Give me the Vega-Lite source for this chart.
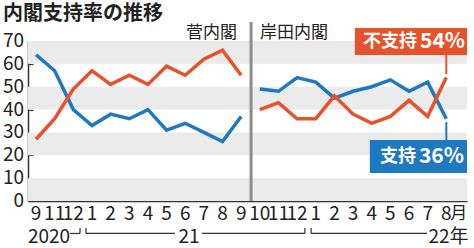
{
  "$schema": "https://vega.github.io/schema/vega-lite/v6.json",
  "width": 439,
  "height": 160,
  "autosize": {"type": "none"},
  "padding": {"left": 28, "top": 41, "right": 7, "bottom": 47},
  "background": "white",
  "config": {
    "font": "Noto Sans CJK JP",
    "view": {"stroke": null},
    "axis": {"domainColor": "#333333", "domainWidth": 1.5, "tickColor": "#333333", "tickWidth": 1.2, "grid": false, "labels": false, "title": null}
  },
  "datasets": {
    "polls": [
      {"i": 0, "month": "2020-09", "tick": "9", "cabinet": "菅", "support": 64, "oppose": 27},
      {"i": 1, "month": "2020-11", "tick": "11", "cabinet": "菅", "support": 57, "oppose": 36},
      {"i": 2, "month": "2020-12", "tick": "12", "cabinet": "菅", "support": 40, "oppose": 49},
      {"i": 3, "month": "2021-01", "tick": "1", "cabinet": "菅", "support": 33, "oppose": 57},
      {"i": 4, "month": "2021-02", "tick": "2", "cabinet": "菅", "support": 38, "oppose": 51},
      {"i": 5, "month": "2021-03", "tick": "3", "cabinet": "菅", "support": 36, "oppose": 55},
      {"i": 6, "month": "2021-04", "tick": "4", "cabinet": "菅", "support": 40, "oppose": 51},
      {"i": 7, "month": "2021-05", "tick": "5", "cabinet": "菅", "support": 31, "oppose": 59},
      {"i": 8, "month": "2021-06", "tick": "6", "cabinet": "菅", "support": 34, "oppose": 55},
      {"i": 9, "month": "2021-07", "tick": "7", "cabinet": "菅", "support": 30, "oppose": 62},
      {"i": 10, "month": "2021-08", "tick": "8", "cabinet": "菅", "support": 26, "oppose": 66},
      {"i": 11, "month": "2021-09", "tick": "9", "cabinet": "菅", "support": 37, "oppose": 55},
      {"i": 12, "month": "2021-10", "tick": "10", "cabinet": "岸田", "support": 49, "oppose": 40},
      {"i": 13, "month": "2021-11", "tick": "11", "cabinet": "岸田", "support": 48, "oppose": 43},
      {"i": 14, "month": "2021-12", "tick": "12", "cabinet": "岸田", "support": 54, "oppose": 36},
      {"i": 15, "month": "2022-01", "tick": "1", "cabinet": "岸田", "support": 52, "oppose": 36},
      {"i": 16, "month": "2022-02", "tick": "2", "cabinet": "岸田", "support": 45, "oppose": 46},
      {"i": 17, "month": "2022-03", "tick": "3", "cabinet": "岸田", "support": 48, "oppose": 38},
      {"i": 18, "month": "2022-04", "tick": "4", "cabinet": "岸田", "support": 50, "oppose": 34},
      {"i": 19, "month": "2022-05", "tick": "5", "cabinet": "岸田", "support": 53, "oppose": 37},
      {"i": 20, "month": "2022-06", "tick": "6", "cabinet": "岸田", "support": 48, "oppose": 44},
      {"i": 21, "month": "2022-07", "tick": "7", "cabinet": "岸田", "support": 52, "oppose": 37},
      {"i": 22, "month": "2022-08", "tick": "8", "cabinet": "岸田", "support": 36, "oppose": 54}
    ],
    "bands": [{"lo": 0, "hi": 10}, {"lo": 20, "hi": 30}, {"lo": 40, "hi": 50}, {"lo": 60, "hi": 70}],
    "yticks": [{"v": 0}, {"v": 10}, {"v": 20}, {"v": 30}, {"v": 40}, {"v": 50}, {"v": 60}, {"v": 70}]
  },
  "layer": [
    {
      "data": {"name": "bands"},
      "mark": {"type": "rect", "color": "#ebebeb"},
      "encoding": {
        "x": {"datum": -0.43, "type": "quantitative", "scale": {"domain": [-0.43, 23.11], "nice": false, "zero": false},
              "axis": {"title": null, "labels": false, "values": [0,1,2,3,4,5,6,7,8,9,10,11,12,13,14,15,16,17,18,19,20,21,22], "tickSize": -5}},
        "x2": {"datum": 23.11},
        "y": {"field": "lo", "type": "quantitative", "scale": {"domain": [0, 70], "nice": false, "zero": true},
              "axis": {"title": null, "labels": false, "values": [0,10,20,30,40,50,60,70], "tickSize": -5}},
        "y2": {"field": "hi"}
      }
    },
    {
      "data": {"name": "yticks"},
      "mark": {"type": "text", "align": "right", "baseline": "middle", "dx": -4, "fontSize": 19, "color": "#222222"},
      "encoding": {"x": {"datum": -0.43, "type": "quantitative"}, "y": {"field": "v", "type": "quantitative"}, "text": {"field": "v", "type": "quantitative"}}
    },
    {
      "data": {"name": "polls"},
      "mark": {"type": "text", "align": "center", "baseline": "middle", "fontSize": 19, "color": "#222222"},
      "encoding": {"x": {"field": "i", "type": "quantitative"}, "y": {"datum": -5.9, "type": "quantitative"}, "text": {"field": "tick", "type": "nominal"}}
    },
    {
      "data": {"values": [{}]},
      "mark": {"type": "text", "text": "月", "align": "left", "baseline": "middle", "dx": 4, "fontSize": 17, "color": "#222222"},
      "encoding": {"x": {"datum": 22, "type": "quantitative"}, "y": {"datum": -5.9, "type": "quantitative"}}
    },
    {
      "data": {"values": [{}]},
      "mark": {"type": "text", "text": "内閣支持率の推移", "align": "left", "baseline": "alphabetic", "dx": -25, "fontSize": 20, "fontWeight": "bold", "color": "#222222"},
      "encoding": {"x": {"datum": -0.43, "type": "quantitative"}, "y": {"datum": 79.0, "type": "quantitative"}}
    },
    {
      "data": {"values": [{}]},
      "mark": {"type": "rule", "color": "#8c8c8c", "strokeWidth": 3},
      "encoding": {"x": {"datum": 11.53, "type": "quantitative"}, "y": {"datum": 0, "type": "quantitative"}, "y2": {"datum": 78.3}}
    },
    {
      "data": {"values": [{}]},
      "mark": {"type": "text", "text": "菅内閣", "align": "right", "baseline": "middle", "dx": -14, "fontSize": 17, "color": "#222222"},
      "encoding": {"x": {"datum": 11.53, "type": "quantitative"}, "y": {"datum": 73.5, "type": "quantitative"}}
    },
    {
      "data": {"values": [{}]},
      "mark": {"type": "text", "text": "岸田内閣", "align": "left", "baseline": "middle", "dx": 9, "fontSize": 17, "color": "#222222"},
      "encoding": {"x": {"datum": 11.53, "type": "quantitative"}, "y": {"datum": 73.5, "type": "quantitative"}}
    },
    {
      "data": {"name": "polls"},
      "transform": [{"fold": ["support", "oppose"], "as": ["series", "pct"]}],
      "mark": {"type": "line", "strokeWidth": 3.5},
      "encoding": {
        "x": {"field": "i", "type": "quantitative", "title": null},
        "y": {"field": "pct", "type": "quantitative", "title": null},
        "color": {"field": "series", "type": "nominal", "scale": {"domain": ["support", "oppose"], "range": ["#1f79c0", "#e6522c"]}, "legend": null},
        "detail": {"field": "cabinet"}
      }
    },
    {
      "data": {"values": [{}]},
      "mark": {"type": "rect", "color": "#e6522c"},
      "encoding": {"x": {"datum": 17.1, "type": "quantitative"}, "x2": {"datum": 23.11}, "y": {"datum": 75.7, "type": "quantitative"}, "y2": {"datum": 63.9}}
    },
    {
      "data": {"values": [{}]},
      "mark": {"type": "rule", "color": "#e6522c", "strokeWidth": 2},
      "encoding": {"x": {"datum": 22, "type": "quantitative"}, "y": {"datum": 64, "type": "quantitative"}, "y2": {"datum": 55.5}}
    },
    {
      "data": {"values": [{}]},
      "mark": {"type": "text", "text": "不支持", "align": "right", "baseline": "middle", "dx": -2, "fontSize": 18, "fontWeight": "bold", "color": "white"},
      "encoding": {"x": {"datum": 20.54, "type": "quantitative"}, "y": {"datum": 69.6, "type": "quantitative"}}
    },
    {
      "data": {"values": [{}]},
      "mark": {"type": "text", "text": "54%", "align": "left", "baseline": "middle", "dx": 1, "fontSize": 21, "fontWeight": "bold", "color": "white"},
      "encoding": {"x": {"datum": 20.54, "type": "quantitative"}, "y": {"datum": 69.6, "type": "quantitative"}}
    },
    {
      "data": {"values": [{}]},
      "mark": {"type": "rect", "color": "#1f79c0"},
      "encoding": {"x": {"datum": 17.9, "type": "quantitative"}, "x2": {"datum": 23.11}, "y": {"datum": 26.7, "type": "quantitative"}, "y2": {"datum": 12.25}}
    },
    {
      "data": {"values": [{}]},
      "mark": {"type": "rule", "color": "#1f79c0", "strokeWidth": 2},
      "encoding": {"x": {"datum": 22, "type": "quantitative"}, "y": {"datum": 34.5, "type": "quantitative"}, "y2": {"datum": 26.7}}
    },
    {
      "data": {"values": [{}]},
      "mark": {"type": "text", "text": "支持", "align": "right", "baseline": "middle", "dx": -2, "fontSize": 18, "fontWeight": "bold", "color": "white"},
      "encoding": {"x": {"datum": 20.48, "type": "quantitative"}, "y": {"datum": 19.25, "type": "quantitative"}}
    },
    {
      "data": {"values": [{}]},
      "mark": {"type": "text", "text": "36%", "align": "left", "baseline": "middle", "dx": 1, "fontSize": 21, "fontWeight": "bold", "color": "white"},
      "encoding": {"x": {"datum": 20.48, "type": "quantitative"}, "y": {"datum": 19.25, "type": "quantitative"}}
    },
    {
      "data": {"values": [{}]},
      "mark": {"type": "text", "text": "2020", "align": "center", "baseline": "middle", "fontSize": 19, "color": "#222222"},
      "encoding": {"x": {"datum": 0.7, "type": "quantitative"}, "y": {"datum": -15.9, "type": "quantitative"}}
    },
    {
      "data": {"values": [{}]},
      "mark": {"type": "text", "text": "21", "align": "center", "baseline": "middle", "fontSize": 19, "color": "#222222"},
      "encoding": {"x": {"datum": 8.2, "type": "quantitative"}, "y": {"datum": -15.9, "type": "quantitative"}}
    },
    {
      "data": {"values": [{}]},
      "mark": {"type": "text", "text": "22年", "align": "center", "baseline": "middle", "fontSize": 19, "color": "#222222"},
      "encoding": {"x": {"datum": 22.12, "type": "quantitative"}, "y": {"datum": -15.9, "type": "quantitative"}}
    },
    {
      "data": {"values": [{}]},
      "mark": {"type": "rule", "color": "#333333", "strokeWidth": 1.2},
      "encoding": {"x": {"datum": 1.82, "type": "quantitative"}, "x2": {"datum": 2.36}, "y": {"datum": -14.2, "type": "quantitative"}}
    },
    {
      "data": {"values": [{}]},
      "mark": {"type": "rule", "color": "#333333", "strokeWidth": 1.2},
      "encoding": {"x": {"datum": 2.36, "type": "quantitative"}, "y": {"datum": -14.2, "type": "quantitative"}, "y2": {"datum": -11.8}}
    },
    {
      "data": {"values": [{}]},
      "mark": {"type": "rule", "color": "#333333", "strokeWidth": 1.2},
      "encoding": {"x": {"datum": 2.68, "type": "quantitative"}, "y": {"datum": -14.2, "type": "quantitative"}, "y2": {"datum": -11.8}}
    },
    {
      "data": {"values": [{}]},
      "mark": {"type": "rule", "color": "#333333", "strokeWidth": 1.2},
      "encoding": {"x": {"datum": 2.68, "type": "quantitative"}, "x2": {"datum": 7.45}, "y": {"datum": -14.2, "type": "quantitative"}}
    },
    {
      "data": {"values": [{}]},
      "mark": {"type": "rule", "color": "#333333", "strokeWidth": 1.2},
      "encoding": {"x": {"datum": 8.9, "type": "quantitative"}, "x2": {"datum": 14.42}, "y": {"datum": -14.2, "type": "quantitative"}}
    },
    {
      "data": {"values": [{}]},
      "mark": {"type": "rule", "color": "#333333", "strokeWidth": 1.2},
      "encoding": {"x": {"datum": 14.42, "type": "quantitative"}, "y": {"datum": -14.2, "type": "quantitative"}, "y2": {"datum": -11.8}}
    },
    {
      "data": {"values": [{}]},
      "mark": {"type": "rule", "color": "#333333", "strokeWidth": 1.2},
      "encoding": {"x": {"datum": 14.75, "type": "quantitative"}, "y": {"datum": -14.2, "type": "quantitative"}, "y2": {"datum": -11.8}}
    },
    {
      "data": {"values": [{}]},
      "mark": {"type": "rule", "color": "#333333", "strokeWidth": 1.2},
      "encoding": {"x": {"datum": 14.75, "type": "quantitative"}, "x2": {"datum": 20.97}, "y": {"datum": -14.2, "type": "quantitative"}}
    }
  ]
}
